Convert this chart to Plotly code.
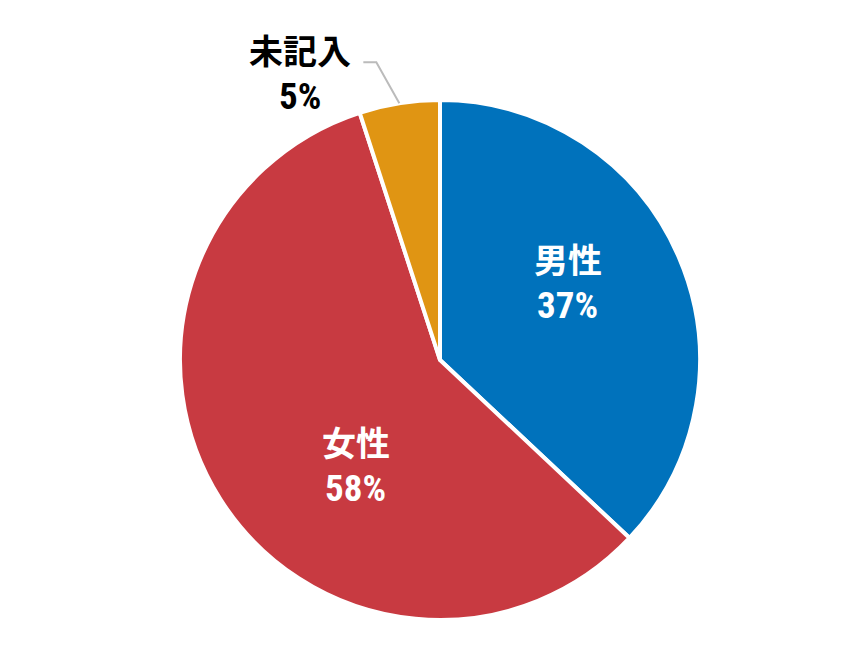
import math
import plotly.graph_objects as go

# データ
labels = ["男性", "女性", "未記入"]
values = [37, 58, 5]
colors = ["#0072BC", "#C83A41", "#E09513"]

W, H = 865, 670
off = 8  # ページの余白ぶん
cx, cy, r = 440 - off, 360 - off, 260  # 円の中心と半径 (px)

# 内側ラベルの置き場所 (角度[度, 12時から時計回り], 半径に対する比)
label_pos = {"男性": (58.3, 0.578), "女性": (218.7, 0.517)}

name_font = dict(family="Noto Sans CJK JP", size=34, weight="bold")
num_font = dict(family="Roboto Condensed, Roboto", size=37, weight="bold")


def px_to_paper(x, y):
    return x / W, 1 - y / H


fig = go.Figure()

fig.add_trace(go.Pie(
    labels=labels,
    values=values,
    sort=False,
    direction="clockwise",
    rotation=0,
    marker=dict(colors=colors, line=dict(color="white", width=4)),
    textinfo="none",
    hoverinfo="label+percent",
    showlegend=False,
    domain=dict(x=[(cx - r) / W, (cx + r) / W], y=[1 - (cy + r) / H, 1 - (cy - r) / H]),
))


def add_label(x, y, name, val, color):
    # 名前と%を2行で
    px, py = px_to_paper(x, y - 23)
    fig.add_annotation(x=px, y=py, xref="paper", yref="paper", text=name,
                       showarrow=False, xanchor="center", yanchor="middle",
                       font=dict(name_font, color=color))
    px, py = px_to_paper(x, y + 24)
    fig.add_annotation(x=px, y=py, xref="paper", yref="paper", text=f"{val}%",
                       showarrow=False, xanchor="center", yanchor="middle",
                       font=dict(num_font, color=color))


for name, val in zip(labels, values):
    if name in label_pos:
        ang, frac = label_pos[name]
        a = math.radians(ang)
        add_label(cx + frac * r * math.sin(a), cy - frac * r * math.cos(a), name, val, "white")

# 未記入は外側に、引き出し線つき
total = sum(values)
start = sum(values[:2]) / total * 360
mid = math.radians(start + values[2] / total * 360 / 2)
x0 = cx + r * math.sin(mid)
y0 = cy - r * math.cos(mid)
x1, y1 = x0 - 23, y0 - 41
x2 = x1 - 13

p0, p1, p2 = px_to_paper(x0, y0), px_to_paper(x1, y1), px_to_paper(x2, y1)
fig.add_shape(type="path", xref="paper", yref="paper",
              path=f"M {p0[0]},{p0[1]} L {p1[0]},{p1[1]} L {p2[0]},{p2[1]}",
              line=dict(color="#BBBBBB", width=2))

add_label(x2 - 9 - 54, y1 + 10, labels[2], values[2], "black")

fig.update_layout(
    width=W, height=H,
    margin=dict(l=0, r=0, t=0, b=0),
    paper_bgcolor="white",
    plot_bgcolor="white",
)

fig.write_html("out.html")
